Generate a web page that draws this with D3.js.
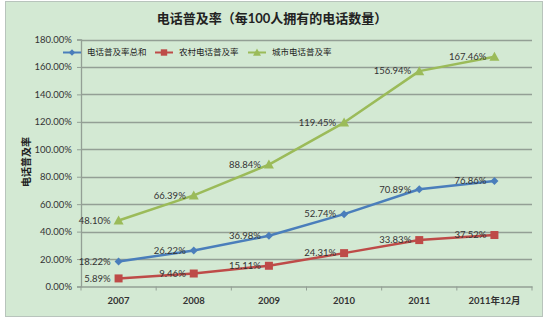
<!DOCTYPE html>
<html><head><meta charset="utf-8">
<script src="https://cdn.jsdelivr.net/npm/d3@7"></script>
<style>
html,body{margin:0;padding:0;background:#fff;}
svg{display:block;}
</style></head>
<body>
<svg id="c" width="550" height="326"></svg>
<script>
const categories = ["2007","2008","2009","2010","2011","2011年12月"];
const totalRate = [18.22, 26.22, 36.98, 52.74, 70.89, 76.86];
const ruralRate = [5.89, 9.46, 15.11, 24.31, 33.83, 37.52];
const urbanRate = [48.10, 66.39, 88.84, 119.45, 156.94, 167.46];
const yTicks = [0,20,40,60,80,100,120,140,160,180];
const seriesNames = ["电话普及率总和","农村电话普及率","城市电话普及率"];

(function(){
const series = [
  {name: seriesNames[0], values: totalRate, color: "#4a7ebb", marker: "diamond"},
  {name: seriesNames[1], values: ruralRate, color: "#be4b48", marker: "square"},
  {name: seriesNames[2], values: urbanRate, color: "#9bbb59", marker: "triangle"}
];

const FONT = "Lato, 'Noto Sans CJK SC', sans-serif";
const svg = d3.select("#c");
const bg = "#d3e9d3";

// chart area
svg.append("rect").attr("x",5.5).attr("y",1.5).attr("width",537).attr("height",315)
  .attr("fill",bg).attr("stroke","#b8c4bc").attr("stroke-width",1);

const pL = 81, pR = 532, pT = 39.5, pB = 286.5;
const x = d3.scaleBand().domain(categories).range([pL,pR]);
const y = d3.scaleLinear().domain([0,180]).range([pB,pT]);

// gridlines
svg.append("g").selectAll("line").data(yTicks.slice(1)).join("line")
  .attr("x1",pL).attr("x2",pR)
  .attr("y1",d=>Math.round(y(d))+0.5).attr("y2",d=>Math.round(y(d))+0.5)
  .attr("stroke","#939f95").attr("stroke-width",1.3);

// y axis
const yAxis = d3.axisLeft(y).tickValues(yTicks).tickFormat(d=>d.toFixed(2)+"%").tickSize(4).tickPadding(5);
const gy = svg.append("g").attr("transform",`translate(${pL},0)`).call(yAxis);
gy.select(".domain").attr("stroke","#939f95").attr("stroke-width",1.3);
gy.selectAll(".tick line").attr("stroke","#939f95");
gy.selectAll(".tick text").attr("font-family",FONT).attr("font-size","9.5px").attr("fill","#333");

// x axis
const xAxis = d3.axisBottom(x).tickSize(0).tickPadding(11);
const gx = svg.append("g").attr("transform",`translate(0,${pB})`).call(xAxis);
gx.select(".domain").attr("stroke","#939f95").attr("stroke-width",1.3);
gx.selectAll(".tick text").attr("font-family",FONT).attr("font-size","9.5px").attr("font-weight","bold").attr("fill","#333");
// category separator ticks
svg.append("g").selectAll("line").data(categories.concat(["__end"])).join("line")
  .attr("x1",(d,i)=> i<categories.length ? x(d) : pR)
  .attr("x2",(d,i)=> i<categories.length ? x(d) : pR)
  .attr("y1",pB).attr("y2",pB+4)
  .attr("stroke","#939f95").attr("stroke-width",1);

const cx = d => x(d) + x.bandwidth()/2;

function drawMarker(g, type, color, px, py){
  if(type==="diamond"){
    g.append("path").attr("d",`M${px},${py-4}L${px+4},${py}L${px},${py+4}L${px-4},${py}Z`).attr("fill",color);
  } else if(type==="square"){
    g.append("rect").attr("x",px-4).attr("y",py-4).attr("width",8).attr("height",8).attr("fill",color);
  } else {
    g.append("path").attr("d",`M${px},${py-5}L${px+5},${py+4}L${px-5},${py+4}Z`).attr("fill",color);
  }
}

const line = d3.line().x((d,i)=>cx(categories[i])).y(d=>y(d));
series.forEach(s=>{
  const g = svg.append("g");
  g.append("path").attr("d",line(s.values)).attr("fill","none").attr("stroke",s.color).attr("stroke-width",2.5).attr("stroke-linejoin","round");
  s.values.forEach((v,i)=>drawMarker(g,s.marker,s.color,cx(categories[i]),y(v)));
});
// data labels
series.forEach(s=>{
  svg.append("g").selectAll("text").data(s.values).join("text")
    .attr("x",(d,i)=>cx(categories[i])-8).attr("y",d=>y(d))
    .attr("dy","0.35em").attr("text-anchor","end")
    .attr("font-family",FONT).attr("font-size","9.5px").attr("fill","#333")
    .text(d=>d.toFixed(2)+"%");
});

// title
svg.append("text").attr("x",272).attr("y",22.5).attr("text-anchor","middle")
  .attr("font-family",FONT).attr("font-size","13px").attr("font-weight","bold").attr("fill","#222")
  .text("电话普及率（每100人拥有的电话数量）");

// y title
svg.append("text").attr("transform","translate(30,162) rotate(-90)").attr("text-anchor","middle")
  .attr("font-family",FONT).attr("font-size","10px").attr("font-weight","bold").attr("fill","#222")
  .text("电话普及率");

// legend
const legendX = [63, 155, 248];
series.forEach((s,i)=>{
  const g = svg.append("g");
  const lx = legendX[i], ly = 52.5;
  g.append("line").attr("x1",lx).attr("x2",lx+18).attr("y1",ly).attr("y2",ly).attr("stroke",s.color).attr("stroke-width",2);
  const mg = g.append("g").attr("transform",`translate(${lx+9},${ly}) scale(0.8)`);
  drawMarker(mg,s.marker,s.color,0,0);
  g.append("text").attr("x",lx+24).attr("y",ly).attr("dy","0.35em")
    .attr("font-family",FONT).attr("font-size","8.5px").attr("fill","#222").text(s.name);
});
})();
</script>
</body></html>
